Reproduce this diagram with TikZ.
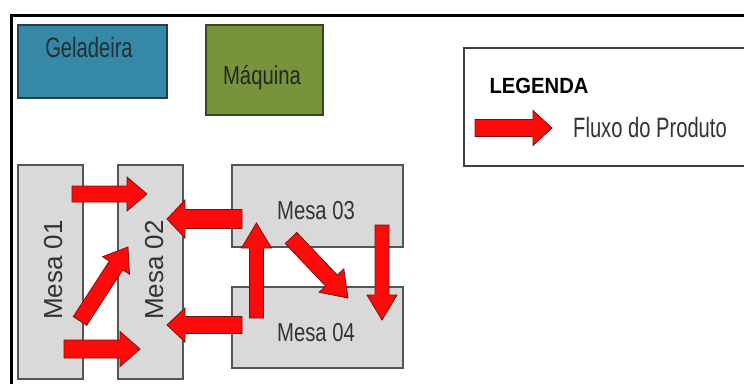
\documentclass[tikz,border=0pt]{standalone}
\usepackage{fontspec}
\setmainfont{Liberation Sans}
\usetikzlibrary{calc}

\definecolor{mesafill}{HTML}{D9D9D9}
\definecolor{mesaline}{HTML}{555555}
\definecolor{gelfill}{HTML}{3588A6}
\definecolor{gelline}{HTML}{2A3C44}
\definecolor{maqfill}{HTML}{77933C}
\definecolor{maqline}{HTML}{3A4426}
\definecolor{flowred}{HTML}{FF0A0A}
\definecolor{flowline}{HTML}{7A1010}
\definecolor{labelgray}{HTML}{333333}

% narrow horizontal labels
\newcommand\narrowtxt[1]{\scalebox{0.78}[1]{#1}}
\newcommand\tallnarrowtxt[1]{\scalebox{0.72}[1]{#1}}

% block arrow: from, to, shaft half width, head half width, head length
\newcommand\flowarrow[5]{%
  \coordinate (hb) at ($(#2)!#5!(#1)$);
  \draw[flow] ($(#1)!#3!90:(#2)$) -- ($(hb)!#3!-90:(#1)$) -- ($(hb)!#4!-90:(#1)$)
    -- (#2) -- ($(hb)!#4!90:(#1)$) -- ($(hb)!#3!90:(#1)$) -- ($(#1)!#3!-90:(#2)$) -- cycle;
}

\tikzset{
  frame/.style={line width=3pt, black},
  mesa/.style={draw=mesaline, fill=mesafill, line width=1.2pt, inner sep=0pt, minimum width=65pt},
  lbl/.style={inner sep=0pt, anchor=base, font=\fontsize{26}{30}\selectfont, text=labelgray},
  biglbl/.style={lbl, font=\fontsize{28}{32}\selectfont},
  vlbl/.style={lbl, rotate=90},
  flow/.style={fill=flowred, draw=flowline, line width=0.8pt, line join=miter},
}

\begin{document}
\begin{tikzpicture}[x=1pt, y=-1pt]
\useasboundingbox (0,0) rectangle (744,383);
\fill[white] (0,0) rectangle (744,383);

% outer frame
\draw[frame] (11.5,390) -- (11.5,15) -- (760,15);

% equipment
\node[draw=gelline, fill=gelfill, line width=1.3pt, inner sep=0pt,
      minimum width=149pt, minimum height=73pt] (gel) at (92.5,61.5) {};
\node[biglbl, text=gelline!80!black] (geltxt) at (89,57) {\tallnarrowtxt{Geladeira}};
\node[draw=maqline, fill=maqfill, line width=1.3pt, inner sep=0pt,
      minimum width=117pt, minimum height=90pt] (maq) at (264.5,70) {};
\node[lbl, text=black!85] (maqtxt) at (262,84) {\narrowtxt{Máquina}};

% legend
\node[draw=black!75, fill=white, line width=1.3pt, inner sep=0pt,
      minimum width=300pt, minimum height=118pt] (leg) at (614,107) {};
\node[lbl, text=black, font=\fontsize{22}{26}\selectfont\bfseries] (legtitle) at (539,93) {\scalebox{0.92}[1]{LEGENDA}};
\node[biglbl, text=black!80] (legtxt) at (650,137) {\tallnarrowtxt{Fluxo do Produto}};
\coordinate (lgs) at (475,128);
\coordinate (lge) at (552,128);
\flowarrow{lgs}{lge}{8.5pt}{17.5pt}{19pt}

% tables
\node[mesa, minimum height=214pt] (m1) at (50.5,272) {};
\node[mesa, minimum height=214pt] (m2) at (150.5,272) {};
\node[mesa, minimum width=171pt, minimum height=82pt] (m3) at (317.5,206) {};
\node[mesa, minimum width=171pt, minimum height=81pt] (m4) at (317.5,327.5) {};
\node[vlbl] (m1txt) at (62,270) {Mesa 01};
\node[vlbl] (m2txt) at (163,270) {Mesa 02};
\node[lbl] (m3txt) at (316,219) {\narrowtxt{Mesa 03}};
\node[lbl] (m4txt) at (316,341) {\narrowtxt{Mesa 04}};

% product flow
\coordinate (a1s) at (72,194);   \coordinate (a1e) at (147,194);
\coordinate (a2s) at (64,349);   \coordinate (a2e) at (140,349);
\coordinate (a3s) at (80,321);   \coordinate (a3e) at (128,247);
\coordinate (a4s) at (242,219);  \coordinate (a4e) at (167,219);
\coordinate (a5s) at (242,325);  \coordinate (a5e) at (167,325);
\coordinate (a6s) at (256.5,318);\coordinate (a6e) at (256.5,223);
\coordinate (a7s) at (291,238);  \coordinate (a7e) at (348,298);
\coordinate (a8s) at (382,225);  \coordinate (a8e) at (382,320);

\flowarrow{a1s}{a1e}{8pt}{17pt}{20pt}
\flowarrow{a2s}{a2e}{9pt}{17.5pt}{20pt}
\flowarrow{a3s}{a3e}{8pt}{16pt}{22pt}
\flowarrow{a4s}{a4e}{9.5pt}{19pt}{18pt}
\flowarrow{a5s}{a5e}{8.5pt}{17pt}{18pt}
\flowarrow{a6s}{a6e}{7pt}{15pt}{25pt}
\flowarrow{a7s}{a7e}{8pt}{17pt}{24pt}
\flowarrow{a8s}{a8e}{7pt}{15pt}{25pt}
\end{tikzpicture}
\end{document}
